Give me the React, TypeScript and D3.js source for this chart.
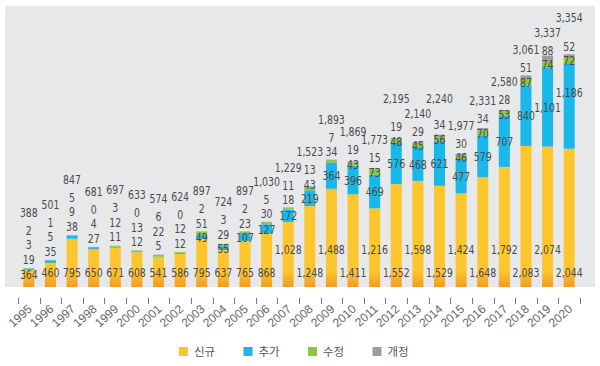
import React from "react";
import * as d3 from "d3";

// yearly counts, stacked bottom -> top
const years = ["1995", "1996", "1997", "1998", "1999", "2000", "2001", "2002", "2003", "2004", "2005", "2006", "2007",
  "2008", "2009", "2010", "2011", "2012", "2013", "2014", "2015", "2016", "2017", "2018", "2019", "2020"];
const newItems = [364, 460, 795, 650, 671, 608, 541, 586, 795, 637, 765, 868, 1028, 1248, 1488, 1411, 1216, 1552, 1598,
  1529, 1424, 1648, 1792, 2083, 2074, 2044];
const added = [19, 35, 38, 27, 11, 12, 5, 12, 49, 55, 107, 127, 172, 219, 364, 396, 469, 576, 468, 621, 477, 579, 707,
  840, 1101, 1186];
const modified = [3, 5, 9, 4, 12, 13, 22, 12, 51, 29, 23, 30, 18, 43, 34, 43, 73, 48, 45, 56, 46, 70, 53, 87, 74, 72];
const revised = [2, 1, 5, 0, 3, 0, 6, 0, 2, 3, 2, 5, 11, 13, 7, 19, 15, 19, 29, 34, 30, 34, 28, 51, 88, 52];
const totals = [388, 501, 847, 681, 697, 633, 574, 624, 897, 724, 897, 1030, 1229, 1523, 1893, 1869, 1773, 2195, 2140,
  2240, 1977, 2331, 2580, 3061, 3337, 3354];
const seriesNames = ["신규", "추가", "수정", "개정"];
const colors = ["#fdc62f", "#1ab7ea", "#8dc63f", "#9d9d9d"];

const W = 600;
const H = 366;
const panel = { x: 5, y: 6, w: 590, h: 281 };
const numFont = "'Liberation Sans Narrow', 'Arial Narrow', 'DejaVu Sans Condensed', sans-serif";
const fmt = d3.format(",");

export default function App() {
  const slot = d3.scaleBand().domain(years).range([18, 580]);
  const barW = slot.bandwidth() * 0.51;
  const y = d3.scaleLinear().domain([0, 3400]).range([296, 51]);

  const series = [newItems, added, modified, revised];
  const rows = years.map((yr, i) => {
    const r: any = { year: yr };
    seriesNames.forEach((s, k) => (r[s] = series[k][i]));
    return r;
  });
  const stacked = d3.stack().keys(seriesNames)(rows);

  const bottom = panel.y + panel.h;

  // label placement: values inside segments where they fit, otherwise stacked above
  const labels = years.map((yr, i) => {
    const cx = slot(yr)! + slot.bandwidth() / 2;
    const top = y(stacked[3][i][1]);
    const cyan = stacked[1][i];
    const green = stacked[2][i];
    const cyanH = y(cyan[0]) - y(cyan[1]);
    const greenH = y(green[0]) - y(green[1]);
    let newY = newItems[i] >= 1000 && i % 2 === 0 ? 249 : 272;
    let addY: number;
    let modY: number;
    if (cyanH >= 3) {
      addY = (y(cyan[0]) + y(cyan[1])) / 2;
      const m = greenH >= 3 ? (y(green[0]) + y(green[1])) / 2 : top - 8;
      modY = Math.min(m, addY - 14);
    } else {
      addY = top - 9;
      newY = Math.max(newY, addY + 15);
      modY = addY - 14.5;
    }
    const revY = modY - 14.5;
    const totY = revY - 18;
    return { cx, ys: [newY, addY, modY, revY, totY], vals: [newItems[i], added[i], modified[i], revised[i], totals[i]] };
  });

  // wide labels on neighbouring bars at nearly the same height: lift the higher one
  [1, 4].forEach((k) => {
    for (let i = 1; i < labels.length; i++) {
      const a = labels[i - 1];
      const b = labels[i];
      if (fmt(a.vals[k]).length < 5 || fmt(b.vals[k]).length < 5) continue;
      if (Math.abs(a.ys[k] - b.ys[k]) < 7) {
        if (a.ys[k] <= b.ys[k]) a.ys[k] = b.ys[k] - 15;
        else b.ys[k] = a.ys[k] - 15;
      }
    }
  });

  return (
    <svg width={W} height={H} style={{ position: "absolute", left: 0, top: 0, background: "#fff" }}>
      <defs>
        <linearGradient id="newGrad" gradientUnits="userSpaceOnUse" x1="0" y1={bottom - 16} x2="0" y2={bottom}>
          <stop offset="0" stopColor={colors[0]} />
          <stop offset="1" stopColor="#f29b1d" />
        </linearGradient>
        <clipPath id="panelClip">
          <rect x={panel.x} y={panel.y} width={panel.w} height={panel.h} />
        </clipPath>
      </defs>
      <rect x={panel.x} y={panel.y} width={panel.w} height={panel.h} fill="#e7e8e9" />

      <g clipPath="url(#panelClip)">
        {stacked.map((s, k) => (
          <g key={s.key} fill={k === 0 ? "url(#newGrad)" : colors[k]}>
            {s.map((d, i) => (
              <rect key={years[i]} x={slot(years[i])! + (slot.bandwidth() - barW) / 2} y={y(d[1])}
                width={barW} height={Math.max(0, y(d[0]) - y(d[1]))} />
            ))}
          </g>
        ))}
      </g>

      <g fontFamily={numFont} fontSize={13} fill="#4a4a4a" textAnchor="middle">
        {labels.map((l, i) =>
          l.vals.map((v, k) => (
            <text key={i + "-" + k} transform={`translate(${l.cx},${l.ys[k]}) scale(0.8,1)`} dy="0.36em">
              {fmt(v)}
            </text>
          ))
        )}
      </g>

      {/* category boundary ticks */}
      <g stroke="#777" strokeWidth={1}>
        {[...years.map((yr) => slot(yr)!), slot.range()[1]].map((tx, i) => (
          <line key={i} x1={Math.round(tx) + 0.5} x2={Math.round(tx) + 0.5} y1={298} y2={304} />
        ))}
      </g>
      <g fontFamily="'Liberation Sans', Arial, sans-serif" fontSize={12} fill="#666" textAnchor="end">
        {years.map((yr) => (
          <text key={yr} transform={`translate(${slot(yr)! + slot.bandwidth() / 2 + 4},${310}) rotate(-42)`}>
            {yr}
          </text>
        ))}
      </g>

      <g fontFamily="'Noto Sans CJK KR', 'Noto Sans', sans-serif" fontSize={11.5} fill="#555">
        {seriesNames.map((s, k) => (
          <g key={s} transform={`translate(${179 + k * 64.5},347)`}>
            <rect width={9} height={9} fill={colors[k]} />
            <text x={15} y={4.5} dy="0.36em">{s}</text>
          </g>
        ))}
      </g>
    </svg>
  );
}
